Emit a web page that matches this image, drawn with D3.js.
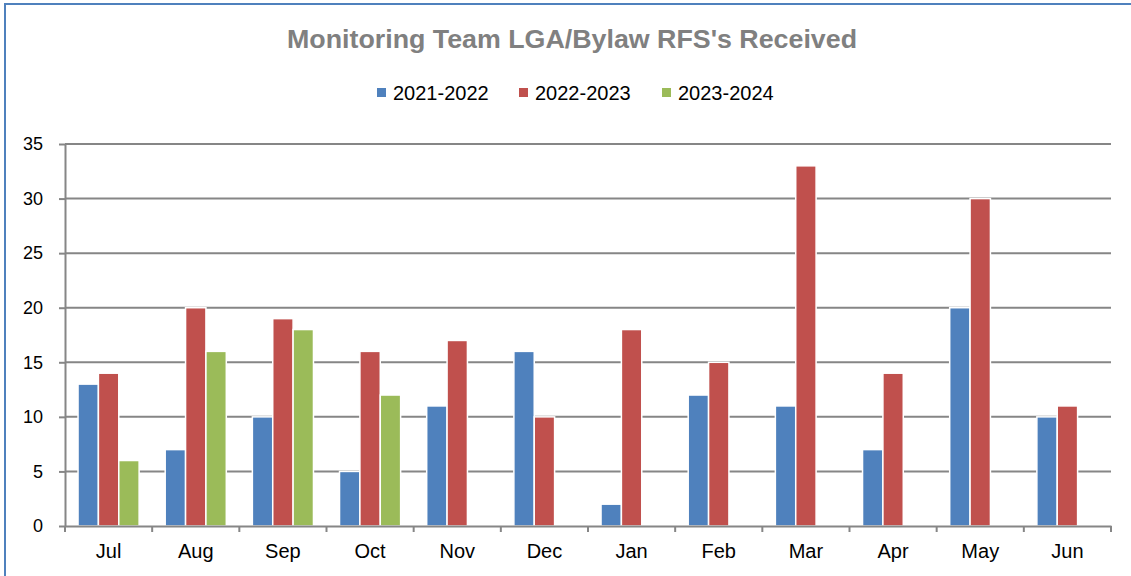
<!DOCTYPE html>
<html>
<head>
<meta charset="utf-8">
<script src="https://cdn.jsdelivr.net/npm/d3@7"></script>
<style>
  body { margin: 0; background: #fff; }
  text { font-family: "Liberation Sans", Arial, sans-serif; }
</style>
</head>
<body>
<svg width="1131" height="576"></svg>
<script>
var months = ["Jul", "Aug", "Sep", "Oct", "Nov", "Dec", "Jan", "Feb", "Mar", "Apr", "May", "Jun"];
var seriesNames = ["2021-2022", "2022-2023", "2023-2024"];
var fy2122 = [13, 7, 10, 5, 11, 16, 2, 12, 11, 7, 20, 10];
var fy2223 = [14, 20, 19, 16, 17, 10, 18, 15, 33, 14, 30, 11];
var fy2324 = [6, 16, 18, 12, null, null, null, null, null, null, null, null];
var yTicks = [0, 5, 10, 15, 20, 25, 30, 35];
var colors = ["#4f81bd", "#c0504d", "#9bbb59"];

var svg = d3.select("svg"),
    width = +svg.attr("width"),
    height = +svg.attr("height");

var margin = {top: 144, right: 20, bottom: 50, left: 65};
var plotW = 1111 - margin.left,
    plotH = 526 - margin.top;

// outer chart border (only top/left visible)
svg.append("rect")
    .attr("x", 5).attr("y", 4)
    .attr("width", 1140).attr("height", 600)
    .attr("fill", "none")
    .attr("stroke", "#4f81bd")
    .attr("stroke-width", 2);

svg.append("text")
    .attr("x", 572).attr("y", 48)
    .attr("text-anchor", "middle")
    .attr("font-size", 26)
    .attr("font-weight", "bold")
    .attr("fill", "#808080")
    .attr("textLength", 570)
    .attr("lengthAdjust", "spacingAndGlyphs")
    .text("Monitoring Team LGA/Bylaw RFS's Received");

// legend
var legendX = [377, 519, 662];
var legend = svg.append("g").selectAll("g")
    .data(seriesNames)
    .enter().append("g")
    .attr("transform", function(d, i) { return "translate(" + legendX[i] + ",88)"; });
legend.append("rect")
    .attr("width", 9).attr("height", 9)
    .attr("fill", function(d, i) { return colors[i]; });
legend.append("text")
    .attr("x", 16).attr("y", 12)
    .attr("font-size", 20)
    .attr("fill", "#000")
    .text(function(d) { return d; });

var g = svg.append("g").attr("transform", "translate(" + margin.left + "," + margin.top + ")");

var x = d3.scaleBand().domain(months).range([0, plotW]).paddingInner(0).paddingOuter(0);
var x1 = d3.scaleBand().domain(seriesNames).range([0, x.bandwidth()]).paddingOuter(0.64).paddingInner(0);
var y = d3.scaleLinear().domain([0, 35]).range([plotH, 0]);

// gridlines
g.append("g").selectAll("line")
    .data(yTicks.slice(1))
    .enter().append("line")
    .attr("x1", 0).attr("x2", plotW)
    .attr("y1", function(d) { return y(d); })
    .attr("y2", function(d) { return y(d); })
    .attr("stroke", "#868686")
    .attr("stroke-width", 2);

// bars
var rows = months.map(function(m, i) {
    return {month: m, values: [fy2122[i], fy2223[i], fy2324[i]]};
});
var groups = g.append("g").selectAll("g")
    .data(rows)
    .enter().append("g")
    .attr("transform", function(d) { return "translate(" + x(d.month) + ",0)"; });
groups.selectAll("rect")
    .data(function(d) {
        return d.values.map(function(v, i) { return {key: seriesNames[i], value: v, i: i}; })
            .filter(function(e) { return e.value != null; });
    })
    .enter().append("rect")
    .attr("x", function(d) { return x1(d.key); })
    .attr("width", x1.bandwidth())
    .attr("y", function(d) { return y(d.value); })
    .attr("height", function(d) { return plotH - y(d.value); })
    .attr("fill", function(d) { return colors[d.i]; })
    .attr("stroke", "#fff")
    .attr("stroke-width", 1.5);

// y axis
var yAxis = g.append("g")
    .call(d3.axisLeft(y).tickValues(yTicks).tickSize(6).tickSizeOuter(0));
yAxis.select(".domain").attr("stroke", "#868686").attr("stroke-width", 2);
yAxis.selectAll(".tick line").attr("stroke", "#868686").attr("stroke-width", 2);
yAxis.selectAll(".tick text")
    .attr("x", -22)
    .attr("font-size", 18)
    .attr("fill", "#000")
    .style("font-family", "'Liberation Sans', Arial, sans-serif");

// x axis
var xAxis = g.append("g")
    .attr("transform", "translate(0," + plotH + ")")
    .call(d3.axisBottom(x).tickSize(0).tickSizeOuter(0));
xAxis.select(".domain").attr("stroke", "#868686").attr("stroke-width", 2);
xAxis.selectAll(".tick text")
    .attr("y", 18)
    .attr("font-size", 20)
    .attr("fill", "#000")
    .style("font-family", "'Liberation Sans', Arial, sans-serif");
// category boundary ticks
xAxis.append("g").selectAll("line")
    .data(months.concat(["end"]))
    .enter().append("line")
    .attr("x1", function(d, i) { return i * x.bandwidth(); })
    .attr("x2", function(d, i) { return i * x.bandwidth(); })
    .attr("y1", 0).attr("y2", 6)
    .attr("stroke", "#868686")
    .attr("stroke-width", 2);
</script>
</body>
</html>
